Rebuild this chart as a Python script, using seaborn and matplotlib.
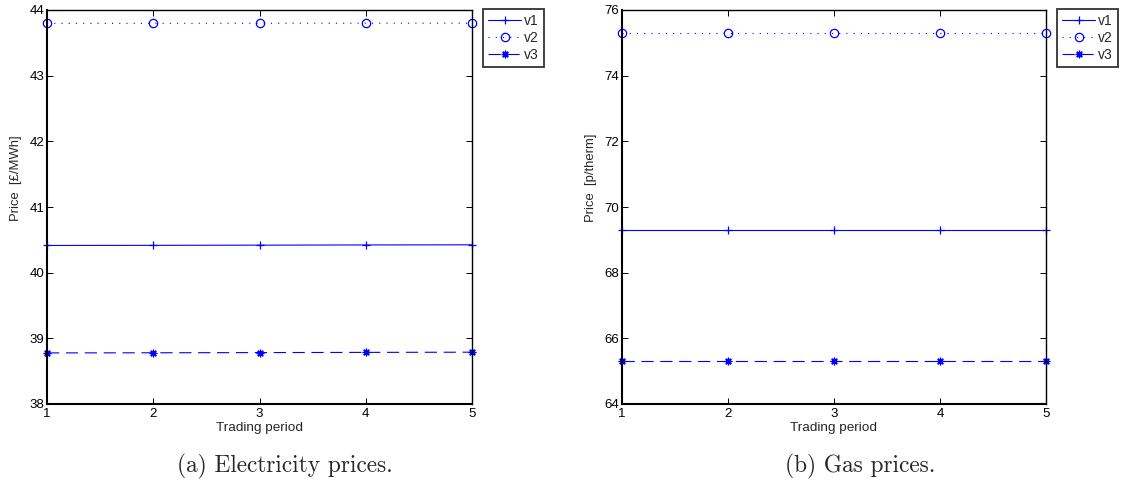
import matplotlib
matplotlib.use("Agg")
import matplotlib.pyplot as plt
import seaborn as sns
import pandas as pd

periods = [1, 2, 3, 4, 5]
elec_v1 = [40.414, 40.416, 40.419, 40.422, 40.424]
elec_v2 = [43.796, 43.797, 43.798, 43.799, 43.800]
elec_v3 = [38.778, 38.780, 38.783, 38.786, 38.789]
gas_v1 = [69.30, 69.30, 69.30, 69.30, 69.30]
gas_v2 = [75.31, 75.31, 75.31, 75.31, 75.31]
gas_v3 = [65.31, 65.31, 65.31, 65.31, 65.31]
series_names = ["v1", "v2", "v3"]
elec_yticks = [38, 39, 40, 41, 42, 43, 44]
gas_yticks = [64, 66, 68, 70, 72, 74, 76]
xlabel = "Trading period"
elec_ylabel = "Price  [£/MWh]"
gas_ylabel = "Price  [p/therm]"
captions = ["(a) Electricity prices.", "(b) Gas prices."]

sns.set_style("ticks")
plt.rcParams["font.family"] = ["Liberation Sans", "DejaVu Sans"]
plt.rcParams.update({
    "xtick.direction": "in", "ytick.direction": "in",
    "xtick.top": True, "ytick.right": True,
    "xtick.major.size": 4, "ytick.major.size": 4,
    "xtick.major.width": 0.7, "ytick.major.width": 0.7,
    "xtick.major.pad": 3, "ytick.major.pad": 2,
    "axes.linewidth": 1.0,
    "xtick.color": "black", "ytick.color": "black",
    "axes.edgecolor": "black",
})

W, H = 1126, 484
fig = plt.figure(figsize=(W / 100, H / 100), dpi=100)
ax1 = fig.add_axes([47 / W, 80 / H, 425 / W, 394 / H])
ax2 = fig.add_axes([622 / W, 80 / H, 424 / W, 394 / H])

styles = [
    dict(marker="+", linestyle="-", markersize=6),
    dict(marker="o", linestyle=(0, (1, 5.5)), markersize=6, markerfacecolor="none"),
    dict(marker=(8, 2, 0), linestyle=(0, (11, 6)), markersize=5.5),
]

def draw(ax, vals, yticks, ylabel):
    for name, v, st in zip(series_names, vals, styles):
        df = pd.DataFrame({"x": periods, "y": v})
        sns.lineplot(data=df, x="x", y="y", ax=ax, color="blue", linewidth=0.8,
                     markeredgecolor="blue", markeredgewidth=0.9,
                     label=name, clip_on=False, **st)
    ax.set_xlim(1, 5)
    ax.set_ylim(yticks[0], yticks[-1])
    ax.set_xticks(periods)
    ax.set_yticks(yticks)
    ax.tick_params(labelsize=9.5)
    ax.set_xlabel(xlabel, fontsize=9.7, labelpad=1)
    ax.set_ylabel(ylabel, fontsize=9.4)
    ax.yaxis.set_label_coords(-25 / 425, (404 - 178) / 394)
    for s in ["left", "bottom"]:
        ax.spines[s].set_linewidth(1.5)
    leg = ax.legend(loc="upper left", bbox_to_anchor=(1 + 11 / 425, 1.0025),
                    frameon=True, fancybox=False, fontsize=10,
                    handlelength=2.4, handletextpad=0.2, borderpad=0.35,
                    labelspacing=0.22, borderaxespad=0, numpoints=1)
    leg.get_frame().set_edgecolor("black")
    leg.get_frame().set_linewidth(1.3)

draw(ax1, [elec_v1, elec_v2, elec_v3], elec_yticks, elec_ylabel)
draw(ax2, [gas_v1, gas_v2, gas_v3], gas_yticks, gas_ylabel)

fig.text(285 / W, 1 - 466 / H, captions[0], ha="center", va="center",
         fontsize=16.8, family="cmr10")
fig.text(860 / W, 1 - 466 / H, captions[1], ha="center", va="center",
         fontsize=16.8, family="cmr10")

fig.savefig("out.png", dpi=100)
